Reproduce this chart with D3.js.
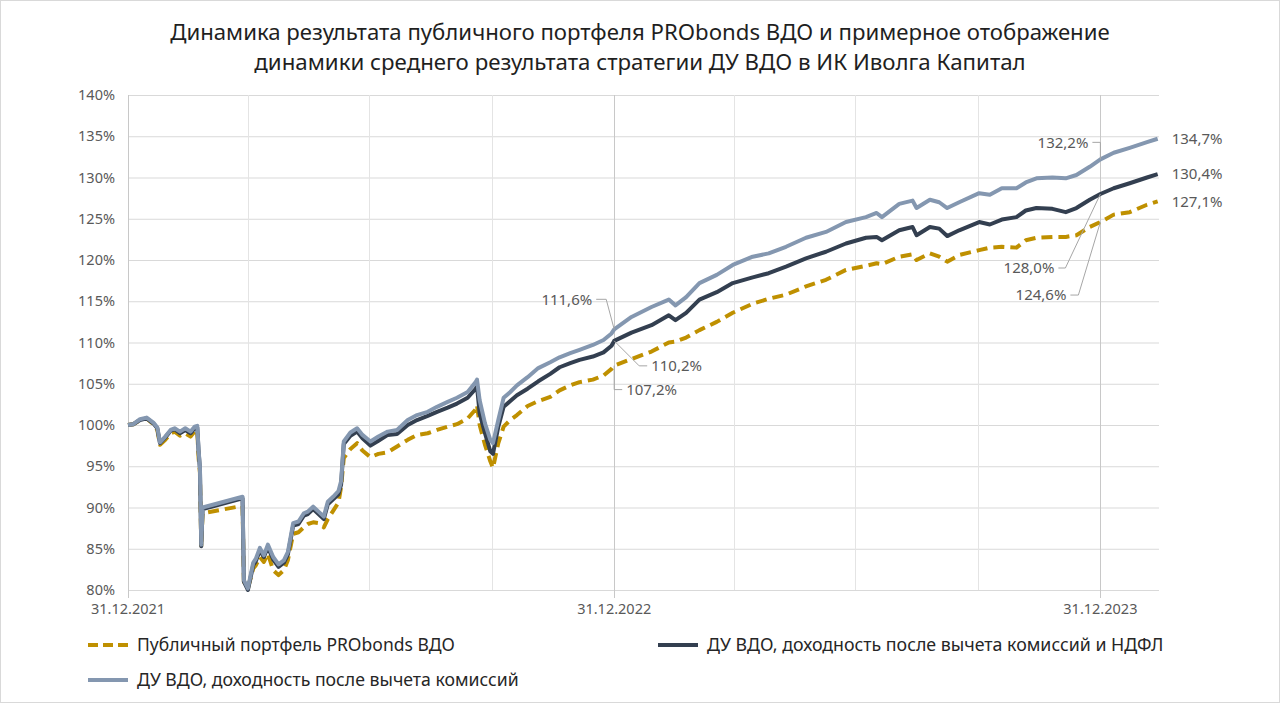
<!DOCTYPE html>
<html>
<head>
<meta charset="utf-8">
<script src="https://cdn.jsdelivr.net/npm/d3@7"></script>
<style>
  body { margin: 0; background: #fff; }
  text { font-family: "Noto Sans", sans-serif; }
</style>
</head>
<body>
<div id="chart"></div>
<script>
// --- data ---
let title_lines = [
  "Динамика результата публичного портфеля PRObonds ВДО и примерное отображение",
  "динамики среднего результата стратегии ДУ ВДО в ИК Иволга Капитал"
];
let series_names = [
  "Публичный портфель PRObonds ВДО",
  "ДУ ВДО, доходность после вычета комиссий и НДФЛ",
  "ДУ ВДО, доходность после вычета комиссий"
];
let dates = [
  "2021-12-31","2022-01-04","2022-01-09","2022-01-14","2022-01-19","2022-01-22","2022-01-24","2022-01-28","2022-02-01","2022-02-04","2022-02-08","2022-02-12","2022-02-16","2022-02-19","2022-02-21","2022-02-22","2022-02-23","2022-02-24","2022-02-25",
  "2022-03-27","2022-03-28","2022-03-31","2022-04-04","2022-04-06","2022-04-09","2022-04-12","2022-04-15","2022-04-19","2022-04-23","2022-04-27","2022-04-30",
  "2022-05-04","2022-05-08","2022-05-12","2022-05-15","2022-05-19","2022-05-23","2022-05-27","2022-05-30","2022-06-03","2022-06-07","2022-06-09","2022-06-11","2022-06-16","2022-06-21","2022-06-25",
  "2022-07-01","2022-07-07","2022-07-14","2022-07-21","2022-07-29","2022-08-05","2022-08-13","2022-08-20","2022-08-28","2022-09-04","2022-09-12","2022-09-18","2022-09-19","2022-09-21","2022-09-25","2022-09-29",
  "2022-10-01","2022-10-05","2022-10-09","2022-10-14","2022-10-19","2022-10-27","2022-11-04","2022-11-13","2022-11-20","2022-11-28","2022-12-05","2022-12-15","2022-12-23","2022-12-29","2022-12-31",
  "2023-01-13","2023-01-28","2023-02-10","2023-02-15","2023-02-23","2023-03-05","2023-03-18","2023-03-30","2023-04-14","2023-04-26","2023-05-09","2023-05-24","2023-06-08","2023-06-23",
  "2023-07-08","2023-07-16","2023-07-20","2023-08-02","2023-08-12","2023-08-15","2023-08-25","2023-09-01","2023-09-07","2023-09-16","2023-10-01","2023-10-09","2023-10-18","2023-10-29",
  "2023-11-05","2023-11-13","2023-11-25","2023-12-05","2023-12-13","2023-12-23","2023-12-31",
  "2024-01-10","2024-01-22","2024-02-04","2024-02-12"
];
// публичный портфель PRObonds ВДО, %
let gold_values = [
  100.0,100.1,100.6,100.8,100.1,99.4,97.6,98.2,99.0,99.2,98.7,99.0,98.6,99.2,99.3,96.0,94.2,85.2,89.3,
  90.2,81.0,80.2,82.6,83.0,84.0,83.4,84.4,82.4,81.8,82.4,83.6,
  86.8,87.0,87.6,88.0,88.2,88.1,87.6,88.6,89.6,90.6,92.5,96.0,97.1,97.8,96.9,
  96.1,96.5,96.7,97.4,98.2,98.8,99.0,99.4,99.8,100.1,100.8,101.9,102.4,100.0,97.6,95.6,
  94.8,97.8,99.8,100.6,101.2,102.3,102.9,103.4,104.2,104.8,105.2,105.5,106.0,106.8,107.2,
  108.0,108.9,110.0,110.1,110.6,111.5,112.5,113.6,114.7,115.3,115.8,116.8,117.6,118.8,
  119.3,119.6,119.5,120.4,120.7,120.0,120.8,120.4,119.8,120.6,121.2,121.5,121.6,121.5,
  122.4,122.7,122.8,122.8,123.0,124.0,124.6,
  125.5,125.8,126.7,127.1
];
// ДУ ВДО после комиссий и НДФЛ, %
let dark_values = [
  100.0,100.1,100.6,100.8,100.2,99.6,97.8,98.5,99.3,99.5,99.0,99.4,99.0,99.6,99.7,96.8,94.7,85.3,89.8,
  91.1,81.0,80.0,83.0,83.5,84.8,84.0,85.2,83.7,82.8,83.3,84.3,
  87.8,88.0,89.0,89.2,89.8,89.2,88.6,90.4,91.0,91.6,92.8,97.7,98.7,99.2,98.4,
  97.5,98.1,98.8,98.9,100.0,100.6,101.1,101.6,102.1,102.6,103.3,104.4,104.7,101.4,99.0,96.8,
  96.5,99.8,102.2,102.9,103.6,104.4,105.3,106.2,107.0,107.5,107.9,108.3,108.8,109.6,110.2,
  111.2,112.1,113.3,112.7,113.6,115.2,116.1,117.2,117.9,118.4,119.2,120.2,121.0,122.0,
  122.7,122.8,122.4,123.6,124.0,123.0,124.0,123.8,122.9,123.6,124.6,124.3,124.9,125.2,
  126.0,126.3,126.2,125.8,126.3,127.3,128.0,
  128.7,129.3,130.0,130.4
];
// ДУ ВДО после комиссий, %
let light_values = [
  100.0,100.1,100.7,100.9,100.3,99.7,97.9,98.6,99.4,99.6,99.2,99.6,99.2,99.8,99.9,97.0,94.9,85.5,90.0,
  91.3,81.2,80.2,83.3,83.8,85.1,84.2,85.5,84.0,83.1,83.6,84.6,
  88.1,88.3,89.3,89.5,90.1,89.5,88.9,90.7,91.3,92.0,93.2,98.0,99.1,99.6,98.8,
  98.0,98.6,99.2,99.4,100.6,101.2,101.6,102.2,102.8,103.3,104.0,105.2,105.5,103.0,100.2,98.2,
  97.8,100.6,103.3,104.0,104.8,105.8,106.9,107.6,108.2,108.7,109.1,109.7,110.3,111.1,111.6,
  113.1,114.3,115.2,114.5,115.5,117.2,118.2,119.4,120.4,120.8,121.6,122.7,123.4,124.6,
  125.2,125.7,125.2,126.8,127.2,126.3,127.3,127.0,126.3,127.0,128.1,127.9,128.7,128.7,
  129.4,129.9,130.0,129.9,130.3,131.3,132.2,
  133.0,133.6,134.3,134.7
];
let y_ticks = [80, 85, 90, 95, 100, 105, 110, 115, 120, 125, 130, 135, 140];
let year_ticks = ["2021-12-31", "2022-12-31", "2023-12-31"];
let quarter_lines = ["2022-03-31","2022-06-30","2022-09-30","2023-03-31","2023-06-30","2023-09-30"];
let marked_dates = ["2022-12-31", "2023-12-31"];

const parse = d3.timeParse("%Y-%m-%d");
const fmt_tick = d3.timeFormat("%d.%m.%Y");
const fmt_pct = v => v.toFixed(1).replace(".", ",") + "%";

let svg = d3.select("#chart").append("svg")
  .attr("width", 1280)
  .attr("height", 703);

svg.append("rect")
  .attr("x", 0.5).attr("y", 0.5)
  .attr("width", 1279).attr("height", 702)
  .attr("fill", "#fff").attr("stroke", "#d9d9d9");

// fit a text to the width it takes in the picture
function fit(sel, w) {
  let size = parseFloat(sel.style("font-size"));
  let len = sel.node().getComputedTextLength();
  sel.style("font-size", (size * w / len) + "px");
}

let x = d3.scaleTime()
  .domain([parse("2021-12-31"), parse("2024-02-13")])
  .range([128, 1159]);
let y = d3.scaleLinear().domain([80, 140]).range([590, 95]);

// title
let title_w = [940, 772];
title_lines.forEach(function(t, i) {
  let el = svg.append("text")
    .attr("x", 640).attr("y", 40 + i * 30)
    .attr("text-anchor", "middle")
    .attr("fill", "#1f1f1f")
    .style("font-size", "22px")
    .text(t);
  fit(el, title_w[i]);
});

// grid
let grid = svg.append("g");
grid.selectAll(".hg").data(y_ticks).join("line")
  .attr("x1", 128).attr("x2", 1159)
  .attr("y1", d => y(d) + 0.5).attr("y2", d => y(d) + 0.5)
  .attr("stroke", "#d9d9d9").attr("stroke-width", 1);
grid.selectAll(".qg").data(quarter_lines).join("line")
  .attr("x1", d => Math.round(x(parse(d))) + 0.5).attr("x2", d => Math.round(x(parse(d))) + 0.5)
  .attr("y1", 95).attr("y2", 590)
  .attr("stroke", "#e4e4e4").attr("stroke-width", 1);
grid.selectAll(".yg").data(year_ticks).join("line")
  .attr("x1", d => Math.round(x(parse(d))) + 0.5).attr("x2", d => Math.round(x(parse(d))) + 0.5)
  .attr("y1", 95).attr("y2", 598)
  .attr("stroke", "#c8c8c8").attr("stroke-width", 1);

// axes labels
svg.append("g").selectAll("text").data(y_ticks).join("text")
  .attr("x", 115).attr("y", d => y(d))
  .attr("dy", "0.35em")
  .attr("text-anchor", "end")
  .attr("fill", "#595959")
  .style("font-size", "14.5px")
  .text(d => d + "%");

svg.append("g").selectAll("text").data(year_ticks).join("text")
  .attr("x", d => x(parse(d))).attr("y", 614)
  .attr("text-anchor", "middle")
  .attr("fill", "#595959")
  .style("font-size", "14.5px")
  .text(d => fmt_tick(parse(d)));

// series
let series = [
  {name: series_names[0], values: gold_values, color: "#bf9000", dash: "11,6"},
  {name: series_names[1], values: dark_values, color: "#333f50", dash: null},
  {name: series_names[2], values: light_values, color: "#8497b0", dash: null}
];

let line = d3.line()
  .x(d => x(d.date))
  .y(d => y(d.value));

series.forEach(function(s) {
  s.points = dates.map((d, i) => ({date: parse(d), value: s.values[i]}));
  svg.append("path")
    .datum(s.points)
    .attr("d", line)
    .attr("fill", "none")
    .attr("stroke", s.color)
    .attr("stroke-width", 4)
    .attr("stroke-linejoin", "round")
    .attr("stroke-dasharray", s.dash);
});

// labels at the end
series.forEach(function(s) {
  let last = s.points[s.points.length - 1];
  svg.append("text")
    .attr("x", x(last.date) + 14).attr("y", y(last.value))
    .attr("dy", "0.35em")
    .attr("fill", "#595959")
    .style("font-size", "15px")
    .text(fmt_pct(last.value));
});

// callouts at year ends: elbow offsets from the point
let callouts = [
  {s: 2, date: marked_dates[0], path: [[-8, -30], [-18, -30]], anchor: "end"},
  {s: 1, date: marked_dates[0], path: [[25, 25], [33, 25]], anchor: "start"},
  {s: 0, date: marked_dates[0], path: [[0, 24], [8, 24]], anchor: "start"},
  {s: 2, date: marked_dates[1], path: [[0, -17], [-8, -17]], anchor: "end"},
  {s: 1, date: marked_dates[1], path: [[-35, 74], [-42, 74]], anchor: "end"},
  {s: 0, date: marked_dates[1], path: [[-22, 73], [-30, 73]], anchor: "end"}
];

callouts.forEach(function(c) {
  let s = series[c.s];
  let p = s.points.find(d => +d.date == +parse(c.date));
  let px = x(p.date), py = y(p.value);
  let pts = [[px, py]].concat(c.path.map(o => [px + o[0], py + o[1]]));
  svg.append("path")
    .attr("d", d3.line()(pts))
    .attr("fill", "none")
    .attr("stroke", "#a6a6a6")
    .attr("stroke-width", 1);
  let end = pts[pts.length - 1];
  svg.append("text")
    .attr("x", end[0] + (c.anchor == "end" ? -4 : 4))
    .attr("y", end[1])
    .attr("dy", "0.35em")
    .attr("text-anchor", c.anchor)
    .attr("fill", "#595959")
    .style("font-size", "15px")
    .text(fmt_pct(p.value));
});

// legend
let legend_pos = [[88, 645, 318], [658, 645, 457], [88, 680, 382]];
series.forEach(function(s, i) {
  let g = svg.append("g")
    .attr("transform", `translate(${legend_pos[i][0]},${legend_pos[i][1]})`);
  g.append("line")
    .attr("x1", 0).attr("x2", 40)
    .attr("stroke", s.color)
    .attr("stroke-width", 4)
    .attr("stroke-dasharray", s.dash ? "10,5" : null);
  let t = g.append("text")
    .attr("x", 49).attr("dy", "0.35em")
    .attr("fill", "#262626")
    .style("font-size", "17px")
    .text(s.name);
  fit(t, legend_pos[i][2]);
});
</script>
</body>
</html>
